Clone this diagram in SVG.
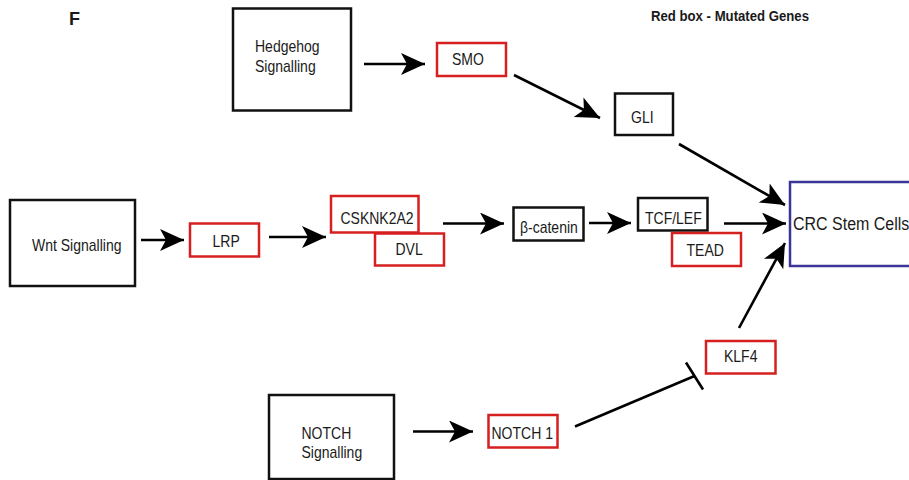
<svg xmlns="http://www.w3.org/2000/svg" width="909" height="480" viewBox="0 0 909 480">
<style>
  .box{fill:#fff;stroke:#111;stroke-width:2.5}
  .red{fill:#fff;stroke:#d61f1f;stroke-width:2.5}
  .blue{fill:#fff;stroke:#3a3596;stroke-width:2.5}
  text{font-family:"Liberation Sans",Arial,sans-serif;font-size:14px;fill:#1a1a1a}
  .edge{stroke:#000;stroke-width:2.6;fill:none}
</style>
<defs>
  <marker id="ah" markerUnits="userSpaceOnUse" markerWidth="26" markerHeight="24" refX="24" refY="11" orient="auto">
    <path d="M0,0 L24,11 L0,22 L6,11 z" fill="#000"/>
  </marker>
</defs>
<rect width="909" height="480" fill="#fff"/>
<text x="69" y="25" style="font-size:18px;font-weight:bold">F</text>
<text transform="translate(651,21) scale(1,1.15)" style="font-size:13px;font-weight:bold" textLength="158" lengthAdjust="spacingAndGlyphs">Red box - Mutated Genes</text>

<g id="connectors">
  <line class="edge" x1="364" y1="64" x2="425" y2="64" marker-end="url(#ah)"/>
  <line class="edge" x1="514" y1="75" x2="600" y2="118" marker-end="url(#ah)"/>
  <line class="edge" x1="679" y1="144" x2="785" y2="205" marker-end="url(#ah)"/>
  <line class="edge" x1="141" y1="240" x2="184" y2="240" marker-end="url(#ah)"/>
  <line class="edge" x1="269" y1="237" x2="326" y2="237" marker-end="url(#ah)"/>
  <line class="edge" x1="443" y1="223.5" x2="504" y2="223.5" marker-end="url(#ah)"/>
  <line class="edge" x1="589" y1="223" x2="631" y2="223" marker-end="url(#ah)"/>
  <line class="edge" x1="724" y1="223.5" x2="786" y2="223.5" marker-end="url(#ah)"/>
  <line class="edge" x1="739" y1="328" x2="785" y2="243" marker-end="url(#ah)"/>
  <line class="edge" x1="413" y1="431.5" x2="473" y2="431.5" marker-end="url(#ah)"/>
  <line class="edge" x1="575" y1="426.5" x2="694.5" y2="376"/>
  <line class="edge" x1="686" y1="362.5" x2="703" y2="389.5"/>
</g>

<g id="hedgehog"><rect class="box" x="233" y="8.5" width="118" height="102"/>
  <text transform="translate(255,52) scale(1,1.15)">Hedgehog</text><text transform="translate(255,72) scale(1,1.15)">Signalling</text></g>
<g id="smo"><rect class="red" x="437" y="43" width="69" height="33"/><text transform="translate(452,65) scale(1,1.15)">SMO</text></g>
<g id="gli"><rect class="box" x="615" y="93.5" width="58" height="41.5"/><text transform="translate(631,123) scale(1,1.15)">GLI</text></g>
<g id="wnt"><rect class="box" x="10" y="200" width="125" height="86"/><text transform="translate(32,251) scale(1,1.15)">Wnt Signalling</text></g>
<g id="lrp"><rect class="red" x="190" y="223.5" width="69" height="33"/><text transform="translate(212.5,247) scale(1,1.15)">LRP</text></g>
<g id="csknk2a2"><rect class="red" x="331" y="196" width="87.5" height="36.5"/><text transform="translate(340.5,224) scale(1,1.15)">CSKNK2A2</text></g>
<g id="dvl"><rect class="red" x="375" y="233.5" width="69" height="32"/><text transform="translate(395.5,254.5) scale(1,1.15)">DVL</text></g>
<g id="bcatenin"><rect class="box" x="513.5" y="207.5" width="70" height="33"/><text transform="translate(520,232.5) scale(1,1.15)">β-catenin</text></g>
<g id="tcflef"><rect class="box" x="638" y="198" width="69.5" height="32.5"/><text transform="translate(645,223.5) scale(1,1.15)">TCF/LEF</text></g>
<g id="tead"><rect class="red" x="672" y="233" width="69" height="33"/><text transform="translate(686.5,256) scale(1,1.15)">TEAD</text></g>
<g id="crc"><rect class="blue" x="790" y="182" width="125" height="84"/><text transform="translate(793,230) scale(1,1.1)" style="font-size:16px">CRC Stem Cells</text></g>
<g id="klf4"><rect class="red" x="706" y="341" width="69.5" height="32.5"/><text transform="translate(724,362) scale(1,1.15)">KLF4</text></g>
<g id="notch"><rect class="box" x="269" y="395" width="125" height="84"/>
  <text transform="translate(301.5,438.5) scale(1,1.15)">NOTCH</text><text transform="translate(301.5,458) scale(1,1.15)">Signalling</text></g>
<g id="notch1"><rect class="red" x="488.5" y="415" width="69" height="32.5"/><text transform="translate(491.5,438.5) scale(1,1.15)">NOTCH 1</text></g>
</svg>
